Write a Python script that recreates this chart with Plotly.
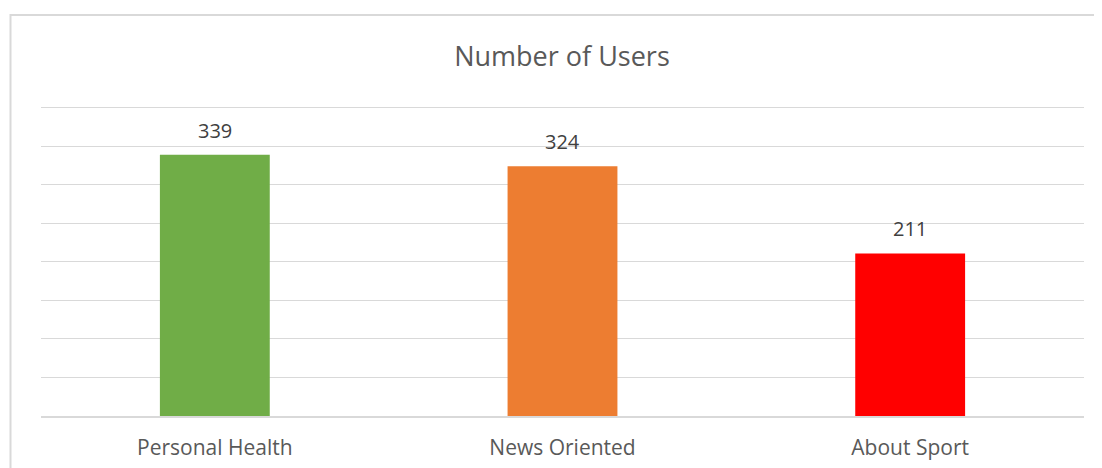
import plotly.graph_objects as go

categories = ["Personal Health", "News Oriented", "About Sport"]
users = [339, 324, 211]
colors = ["#70AD47", "#ED7D31", "#FF0000"]
grid_values = [50, 100, 150, 200, 250, 300, 350, 400]
title_text = "Number of Users"

OFF = 8  # default page body margin
YMAX = 410
px_per_unit = (416 - 108) / 400
top_px = 416 - YMAX * px_per_unit
W, H = 1102 - OFF, 468 - OFF
L, T = 41 - OFF, top_px - OFF
R = W - (1084 - OFF)
B = H - (416 - OFF)
pw, ph = W - L - R, H - T - B

fig = go.Figure()
fig.add_trace(go.Bar(x=categories, y=users, marker_color=colors, width=0.316,
                     marker_line_width=0, hoverinfo="x+y"))

for c, v in zip(categories, users):
    fig.add_annotation(x=c, y=v, text=str(v), showarrow=False, yanchor="bottom",
                       yshift=9, font=dict(family="Open Sans", size=20, color="#404040"))

bx = (10.5 - OFF - L) / pw
by = (416 - 15.5) / ph
fig.add_shape(type="path", xref="paper", yref="paper",
              path=f"M {bx} -0.5 L {bx} {by} L 1.2 {by}",
              line=dict(color="#D9D9D9", width=2))

fig.update_layout(
    width=W, height=H,
    margin=dict(l=L, r=R, t=T, b=B, autoexpand=False),
    plot_bgcolor="white", paper_bgcolor="white",
    title=dict(text=title_text, x=(562 - OFF) / W, xanchor="center", y=1 - (57 - OFF) / H,
               yanchor="middle",
               font=dict(family="Open Sans", size=27, color="#595959")),
    showlegend=False,
    xaxis=dict(showline=True, linecolor="#D9D9D9", linewidth=1.5, ticks="",
               ticklabelstandoff=12, automargin=False,
               tickfont=dict(family="Open Sans", size=21, color="#595959")),
    yaxis=dict(range=[0, YMAX], tickvals=grid_values,
               showticklabels=False, showgrid=True, automargin=False,
               gridcolor="#D9D9D9", gridwidth=1.3, zeroline=False),
)
fig.write_html("out.html")
